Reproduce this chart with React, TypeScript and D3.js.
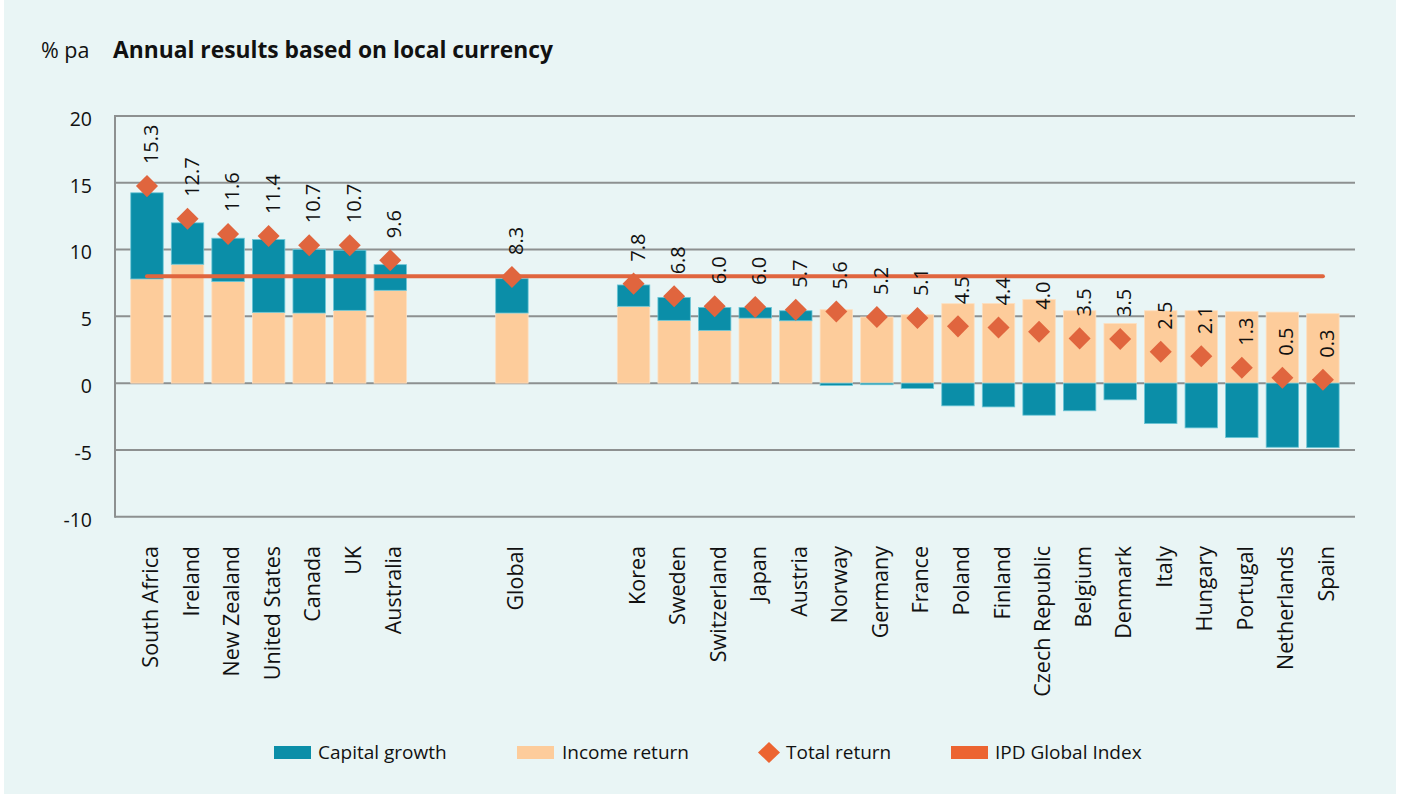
import React, { useEffect, useRef } from 'react'
import * as d3 from 'd3'

// chart data (gap slots keep the space between the groups)
const categories = [
  'South Africa', 'Ireland', 'New Zealand', 'United States', 'Canada', 'UK', 'Australia',
  'gap1', 'gap2', 'Global', 'gap3', 'gap4',
  'Korea', 'Sweden', 'Switzerland', 'Japan', 'Austria', 'Norway', 'Germany', 'France',
  'Poland', 'Finland', 'Czech Republic', 'Belgium', 'Denmark', 'Italy', 'Hungary',
  'Portugal', 'Netherlands', 'Spain'
]
const countries = categories.filter(c => !c.startsWith('gap'))

const incomeReturn = [
  7.8, 8.9, 7.6, 5.3, 5.25, 5.45, 6.95,
  5.25,
  5.75, 4.7, 3.95, 4.87, 4.67, 5.5, 4.95, 5.12, 5.95, 5.97, 6.27, 5.42, 4.47, 5.42,
  5.42, 5.35, 5.32, 5.2
]
const capitalGrowth = [
  6.45, 3.1, 3.25, 5.45, 4.75, 4.5, 1.92,
  2.57,
  1.6, 1.72, 1.72, 0.8, 0.75, -0.17, -0.12, -0.4, -1.7, -1.78, -2.4, -2.07, -1.25, -3.03,
  -3.35, -4.08, -4.8, -4.83
]
const totalReturn = [
  14.75, 12.3, 11.17, 11.02, 10.32, 10.32, 9.2,
  7.95,
  7.45, 6.5, 5.75, 5.7, 5.5, 5.37, 4.95, 4.87, 4.25, 4.17, 3.85, 3.35, 3.3, 2.35,
  2.02, 1.15, 0.4, 0.25
]
const totalLabels = [
  '15.3', '12.7', '11.6', '11.4', '10.7', '10.7', '9.6',
  '8.3',
  '7.8', '6.8', '6.0', '6.0', '5.7', '5.6', '5.2', '5.1', '4.5', '4.4', '4.0', '3.5', '3.5', '2.5',
  '2.1', '1.3', '0.5', '0.3'
]
const ipdGlobalIndex = 8.0
const yTicks = [20, 15, 10, 5, 0, -5, -10]
const legendItems = ['Capital growth', 'Income return', 'Total return', 'IPD Global Index']

/**
 * size / colours
 */
const width = 1402,
      height = 794
const plotLeft = 115,
      plotRight = 1355,
      plotTop = 116,
      plotBottom = 516.7
const capColor = '#0b8ea8'
const incColor = '#fdcc9b'
const accent = '#e0653e'
const gridColor = '#8d9090'
const font = "'Open Sans', 'Noto Sans', sans-serif"

const rows = countries.map((name, i) => ({
  name,
  income: incomeReturn[i],
  capital: capitalGrowth[i],
  total: totalReturn[i],
  label: totalLabels[i]
}))

const xScale = d3.scaleBand()
                 .domain(categories)
                 .range([126.7, 126.7 + 30 * 40.55])
                 .paddingInner(0.2)
                 .paddingOuter(0.1)

const yScale = d3.scaleLinear()
                 .domain([-10, 20])
                 .range([plotBottom, plotTop])

const cx = (name: string) => (xScale(name) as number) + xScale.bandwidth() / 2

export default function App () {
  const ref = useRef<SVGSVGElement>(null)

  useEffect(() => {
    const svg = d3.select(ref.current)
    svg.selectAll('*').remove()

    // background panel
    svg.append('rect')
       .attr('x', 4).attr('y', 0)
       .attr('width', 1392).attr('height', height)
       .attr('fill', '#e9f5f5')

    // title
    svg.append('text')
       .attr('x', 41).attr('y', 58)
       .attr('font-family', font).attr('font-size', 21.5)
       .attr('fill', '#111')
       .text('% pa')
    svg.append('text')
       .attr('x', 113).attr('y', 58)
       .attr('font-family', font).attr('font-size', 22.8).attr('font-weight', 700)
       .attr('fill', '#111')
       .text('Annual results based on local currency')

    // grid + y axis
    const grid = svg.append('g')
    grid.selectAll('line.grid')
        .data(yTicks).enter()
        .append('line')
        .attr('class', 'grid')
        .attr('x1', plotLeft).attr('x2', plotRight)
        .attr('y1', d => yScale(d)).attr('y2', d => yScale(d))
        .attr('stroke', gridColor).attr('stroke-width', 2)
    grid.append('line')
        .attr('x1', plotLeft).attr('x2', plotLeft)
        .attr('y1', yScale(20) - 1).attr('y2', yScale(-10) + 1)
        .attr('stroke', gridColor).attr('stroke-width', 2)
    grid.selectAll('text')
        .data(yTicks).enter()
        .append('text')
        .attr('x', 92)
        .attr('y', d => yScale(d) + 3)
        .attr('dy', '0.35em')
        .attr('text-anchor', 'end')
        .attr('font-family', font).attr('font-size', 19.5)
        .attr('fill', '#111')
        .text(d => d)

    // bars
    const bars = svg.append('g')
    bars.selectAll('rect.inc')
        .data(rows).enter()
        .append('rect')
        .attr('class', 'inc')
        .attr('x', d => xScale(d.name) as number)
        .attr('width', xScale.bandwidth())
        .attr('y', d => yScale(d.income))
        .attr('height', d => yScale(0) - yScale(d.income))
        .attr('fill', incColor)
        .attr('stroke', '#fde0c2').attr('stroke-width', 0.8)
    bars.selectAll('rect.cap')
        .data(rows).enter()
        .append('rect')
        .attr('class', 'cap')
        .attr('x', d => xScale(d.name) as number)
        .attr('width', xScale.bandwidth())
        .attr('y', d => d.capital >= 0 ? yScale(d.income + d.capital) : yScale(0))
        .attr('height', d => d.capital >= 0
          ? yScale(d.income) - yScale(d.income + d.capital)
          : yScale(d.capital) - yScale(0))
        .attr('fill', capColor)
        .attr('stroke', '#6cc6d6').attr('stroke-width', 0.8)

    // IPD global index line
    svg.append('line')
       .attr('x1', cx(countries[0])).attr('x2', cx(countries[countries.length - 1]))
       .attr('y1', yScale(ipdGlobalIndex)).attr('y2', yScale(ipdGlobalIndex))
       .attr('stroke', accent).attr('stroke-width', 4)
       .attr('stroke-linecap', 'round')

    // total return diamonds + labels
    const diamond = d3.symbol().type(d3.symbolSquare).size(243)
    svg.append('g')
       .selectAll('path')
       .data(rows).enter()
       .append('path')
       .attr('d', diamond)
       .attr('transform', d => `translate(${cx(d.name)}, ${yScale(d.total)}) rotate(45)`)
       .attr('fill', accent)
    svg.append('g')
       .selectAll('text')
       .data(rows).enter()
       .append('text')
       .attr('transform', d => `translate(${cx(d.name) + 11}, ${yScale(d.total) - 22}) rotate(-90)`)
       .attr('font-family', font).attr('font-size', 20)
       .attr('fill', '#111')
       .text(d => d.label)

    // category labels
    svg.append('g')
       .selectAll('text')
       .data(countries).enter()
       .append('text')
       .attr('transform', d => `translate(${cx(d) + 11}, 546) rotate(-90)`)
       .attr('text-anchor', 'end')
       .attr('font-family', font).attr('font-size', 21.5)
       .attr('fill', '#111')
       .text(d => d)

    // legend
    const legend = svg.append('g').attr('font-family', font).attr('font-size', 19).attr('fill', '#111')
    legend.append('rect').attr('x', 274).attr('y', 746).attr('width', 37).attr('height', 13).attr('fill', capColor)
    legend.append('text').attr('x', 318).attr('y', 759).text(legendItems[0])
    legend.append('rect').attr('x', 517).attr('y', 746).attr('width', 37).attr('height', 13).attr('fill', incColor)
    legend.append('text').attr('x', 562).attr('y', 759).text(legendItems[1])
    legend.append('path')
          .attr('d', 'M769,742 L780,752.5 L769,763 L758,752.5 Z')
          .attr('fill', '#ec6431')
    legend.append('text').attr('x', 786).attr('y', 759).text(legendItems[2])
    legend.append('rect').attr('x', 951).attr('y', 746).attr('width', 37).attr('height', 13).attr('fill', '#ec6431')
    legend.append('text').attr('x', 995).attr('y', 759).text(legendItems[3])
  }, [])

  return (
    <svg ref={ref} width={width} height={height}
         style={{ position: 'absolute', left: 0, top: 0, background: '#fff' }} />
  )
}
